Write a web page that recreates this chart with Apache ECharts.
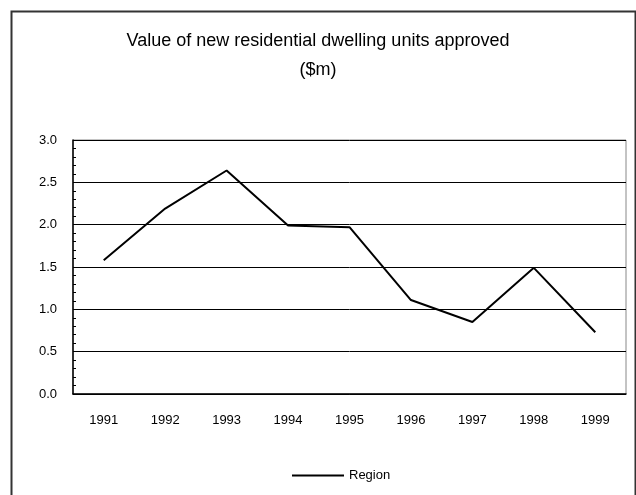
<!DOCTYPE html>
<html>
<head>
<meta charset="utf-8">
<script src="https://cdn.jsdelivr.net/npm/echarts@6/dist/echarts.min.js"></script>
<style>
  html, body { margin: 0; padding: 0; background: #fff; }
  #chart { width: 636px; height: 495px; }
</style>
</head>
<body>
<div id="chart"></div>
<script>
// chart data
const years = ['1991', '1992', '1993', '1994', '1995', '1996', '1997', '1998', '1999'];
const regionValues = [1.58, 2.19, 2.64, 1.99, 1.97, 1.11, 0.85, 1.49, 0.73];
const seriesName = 'Region';
const titleLines = ['Value of new residential dwelling units approved', '($m)'];

const labelFont = 'Liberation Sans, Arial, sans-serif';

const chart = echarts.init(document.getElementById('chart'));

const option = {
    animation: false,
    backgroundColor: '#fff',
    title: {
        text: titleLines.join('\n'),
        left: 'center',
        top: 22,
        textStyle: {
            fontFamily: labelFont,
            fontSize: 18,
            fontWeight: 'normal',
            color: '#000',
            lineHeight: 29
        }
    },
    graphic: [
        {
            type: 'rect',
            left: 9,
            top: 9,
            shape: { width: 624, height: 500 },
            style: { fill: 'none', stroke: '#333', lineWidth: 2 },
            silent: true
        }
    ],
    legend: {
        data: [seriesName],
        left: 287,
        top: 464,
        icon: 'rect',
        itemWidth: 52,
        itemHeight: 2,
        itemGap: 4,
        textStyle: { fontFamily: labelFont, fontSize: 13, color: '#000' }
    },
    grid: {
        left: 73,
        right: 10,
        top: 140,
        bottom: 101,
        show: true,
        borderColor: '#888',
        borderWidth: 1,
        containLabel: false
    },
    xAxis: {
        type: 'category',
        data: years,
        boundaryGap: true,
        axisLine: { lineStyle: { color: '#000', width: 1.5 } },
        axisTick: { inside: true, length: 5, interval: 0, lineStyle: { color: '#888' } },
        axisLabel: { margin: 20, fontFamily: labelFont, fontSize: 13, color: '#000' },
        splitLine: { show: false }
    },
    yAxis: {
        type: 'value',
        min: 0,
        max: 3,
        interval: 0.5,
        axisLine: { show: true, lineStyle: { color: '#000', width: 1.5 } },
        axisTick: { show: true, inside: true, length: 3, lineStyle: { color: '#000' } },
        minorTick: { show: true, splitNumber: 5, length: 3, lineStyle: { color: '#000' } },
        axisLabel: {
            margin: 16,
            fontFamily: labelFont,
            fontSize: 13,
            color: '#000',
            formatter: v => v.toFixed(1)
        },
        splitLine: { show: true, lineStyle: { color: '#000', width: 1 } }
    },
    series: [
        {
            name: seriesName,
            type: 'line',
            data: regionValues,
            symbol: 'none',
            lineStyle: { color: '#000', width: 2 },
            itemStyle: { color: '#000' }
        }
    ]
};

chart.setOption(option);
</script>
</body>
</html>
